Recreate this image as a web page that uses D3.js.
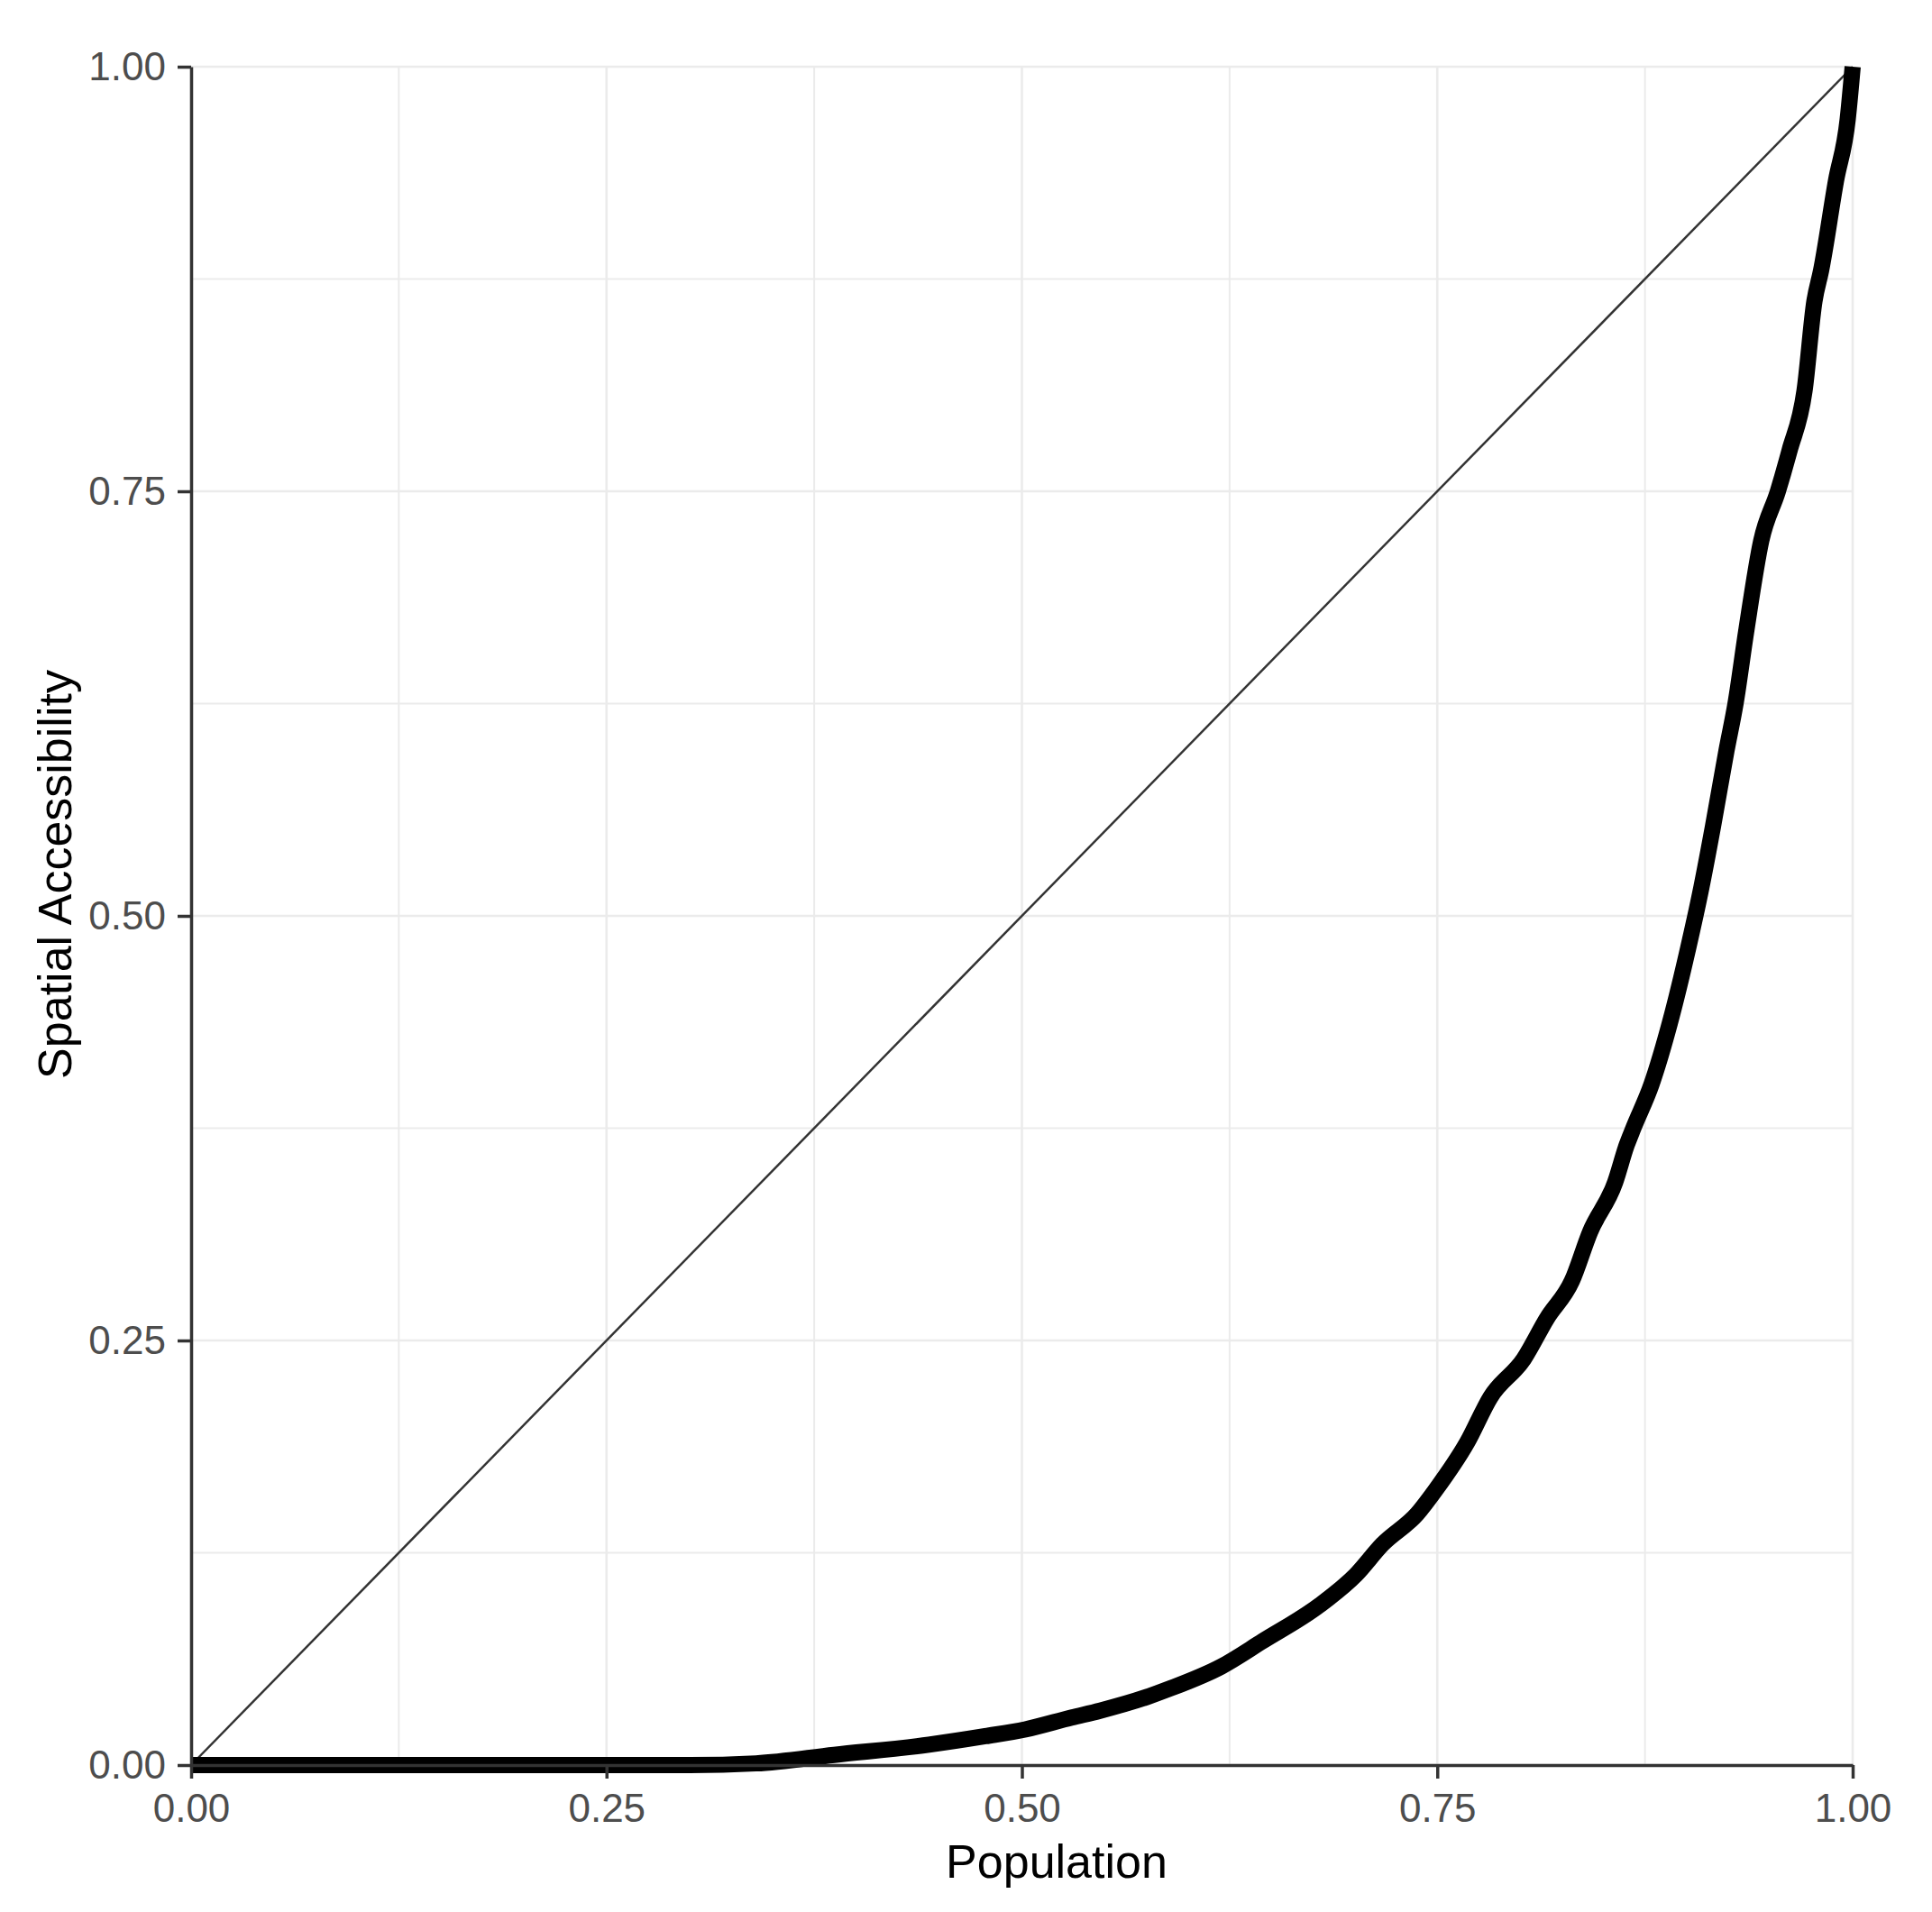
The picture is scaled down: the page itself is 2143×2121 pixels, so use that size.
<!DOCTYPE html>
<html>
<head>
<meta charset="utf-8">
<script src="https://cdn.jsdelivr.net/npm/d3@7"></script>
<style>
  body { margin: 0; background: #fff; overflow: hidden; }
  svg { display: block; font-family: "Liberation Sans", Arial, sans-serif; }
  .grid line { stroke: #ebebeb; }
  .axis path, .axis line { stroke: #333; stroke-width: 3.5px; }
  .axis text { fill: #4d4d4d; font-size: 44px; font-family: "Liberation Sans", Arial, sans-serif; }
  .label { fill: #000; font-size: 52px; }
</style>
</head>
<body>
<div id="lorenz-chart"><svg></svg></div>
<script>
// values (cumulative share of population vs accessibility)
const population = [0, 0.1, 0.2, 0.3, 0.34, 0.387, 0.444, 0.478, 0.502, 0.53, 0.547, 0.575, 0.589,
  0.62, 0.645, 0.679, 0.701, 0.717, 0.738, 0.749, 0.768, 0.782, 0.802, 0.816, 0.831, 0.842,
  0.857, 0.864, 0.868, 0.879, 0.89, 0.901, 0.909, 0.916, 0.924, 0.9295, 0.936, 0.945, 0.955,
  0.962, 0.971, 0.977, 0.981, 0.99, 0.997, 1];
const accessibility = [0, 0, 0, 0, 0.001, 0.006, 0.012, 0.017, 0.021, 0.028, 0.032, 0.04, 0.045,
  0.058, 0.073, 0.094, 0.112, 0.13, 0.148, 0.162, 0.19, 0.2166, 0.239, 0.263, 0.285, 0.314,
  0.343, 0.365, 0.375, 0.401, 0.437, 0.481, 0.517, 0.553, 0.597, 0.625, 0.668, 0.721, 0.75,
  0.774, 0.809, 0.862, 0.88, 0.933, 0.969, 1];
const equality = [0, 1]; // reference diagonal
const majorTicks = [0, 0.25, 0.5, 0.75, 1];
const minorTicks = [0.125, 0.375, 0.625, 0.875];
const xTitle = "Population";
const yTitle = "Spatial Accessibility";

const margin = { top: 74, right: 88, bottom: 163, left: 212 };
const width = 2143;
const height = 2121;
const innerWidth = width - margin.left - margin.right;
const innerHeight = height - margin.top - margin.bottom;

const xScale = d3.scaleLinear().domain([0, 1]).range([0, innerWidth]);
const yScale = d3.scaleLinear().domain([0, 1]).range([innerHeight, 0]);

const svg = d3.select("#lorenz-chart > svg")
  .attr("width", width)
  .attr("height", height)
  .attr("viewBox", `0 0 ${width} ${height}`);

const g = svg.append("g").attr("transform", `translate(${margin.left},${margin.top})`);

drawGrid(g);
plotLines(g);
drawAxis(g);

function drawGrid(dest) {
  const grid = dest.append("g").attr("class", "grid");
  // minor first, majors on top
  [[minorTicks, 2], [majorTicks, 2.6]].forEach(([ticks, w]) => {
    grid.selectAll(null).data(ticks).enter().append("line")
      .attr("x1", (d) => xScale(d)).attr("x2", (d) => xScale(d))
      .attr("y1", 0).attr("y2", innerHeight)
      .style("stroke-width", w);
    grid.selectAll(null).data(ticks).enter().append("line")
      .attr("x1", 0).attr("x2", innerWidth)
      .attr("y1", (d) => yScale(d)).attr("y2", (d) => yScale(d))
      .style("stroke-width", w);
  });
}

function plotLines(dest) {
  const line = d3.line()
    .x((d) => xScale(d[0]))
    .y((d) => yScale(d[1]));

  // 45 degree line of equality
  dest.append("path")
    .datum(equality.map((v) => [v, v]))
    .attr("d", line)
    .attr("fill", "none")
    .attr("stroke", "#333")
    .attr("stroke-width", 2.5);

  // Lorenz curve
  dest.append("path")
    .datum(population.map((p, i) => [p, accessibility[i]]))
    .attr("d", line.curve(d3.curveMonotoneX))
    .attr("fill", "none")
    .attr("stroke", "#000")
    .attr("stroke-width", 18)
    .attr("stroke-linejoin", "round");
}

function drawAxis(dest) {
  const fmt = d3.format(".2f");

  // X axis
  dest.append("g")
    .attr("class", "axis")
    .attr("transform", `translate(0,${innerHeight})`)
    .call(d3.axisBottom(xScale).tickValues(majorTicks).tickFormat(fmt)
      .tickSize(15).tickSizeOuter(0).tickPadding(17))
    .attr("font-family", null)
    .attr("font-size", null);

  // Y axis
  dest.append("g")
    .attr("class", "axis")
    .call(d3.axisLeft(yScale).tickValues(majorTicks).tickFormat(fmt)
      .tickSize(15).tickSizeOuter(0).tickPadding(13))
    .attr("font-family", null)
    .attr("font-size", null);

  // X label
  svg.append("text")
    .attr("class", "label")
    .attr("text-anchor", "middle")
    .attr("x", 1172)
    .attr("y", 2083)
    .text(xTitle);

  // Y label
  svg.append("text")
    .attr("class", "label")
    .attr("text-anchor", "middle")
    .attr("transform", "rotate(-90)")
    .attr("x", -970) // behaves like y because of the rotate
    .attr("y", 79)
    .text(yTitle);
}
</script>
</body>
</html>
